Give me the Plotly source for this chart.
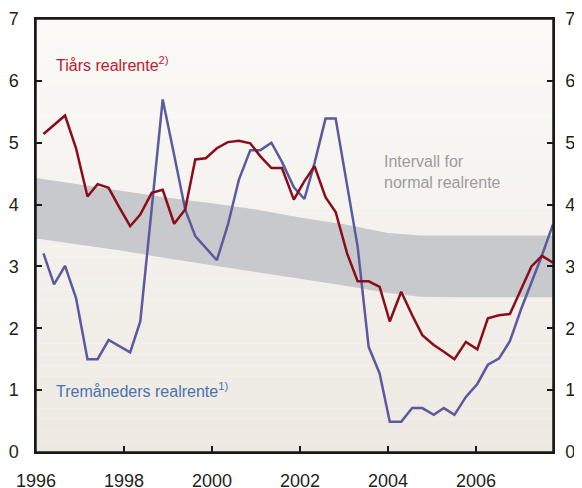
import plotly.graph_objects as go

dates = [1996.17, 1996.41, 1996.66, 1996.91, 1997.17, 1997.40, 1997.65, 1997.89,
         1998.14, 1998.37, 1998.63, 1998.88, 1999.14, 1999.39, 1999.62, 1999.86,
         2000.11, 2000.36, 2000.61, 2000.87, 2001.10, 2001.35, 2001.59, 2001.86,
         2002.10, 2002.33, 2002.58, 2002.81, 2003.07, 2003.31, 2003.56, 2003.81,
         2004.04, 2004.30, 2004.55, 2004.78, 2005.04, 2005.27, 2005.51, 2005.77,
         2006.03, 2006.27, 2006.52, 2006.77, 2007.02, 2007.26, 2007.50, 2007.75]

tiars = [5.14, 5.29, 5.44, 4.91, 4.13, 4.33, 4.27, 3.96,
         3.65, 3.84, 4.19, 4.24, 3.69, 3.92, 4.73, 4.75,
         4.91, 5.01, 5.03, 4.99, 4.78, 4.59, 4.59, 4.08,
         4.38, 4.62, 4.12, 3.88, 3.21, 2.76, 2.76, 2.67,
         2.11, 2.59, 2.21, 1.89, 1.73, 1.62, 1.50, 1.78,
         1.66, 2.16, 2.21, 2.23, 2.63, 3.00, 3.17, 3.06]

tremaneders = [3.21, 2.71, 3.01, 2.49, 1.50, 1.50, 1.81, 1.71,
               1.61, 2.11, 3.90, 5.70, 4.80, 3.92, 3.49, 3.29,
               3.10, 3.67, 4.40, 4.88, 4.88, 5.00, 4.69, 4.28,
               4.09, 4.67, 5.39, 5.39, 4.31, 3.32, 1.70, 1.27,
               0.49, 0.49, 0.71, 0.71, 0.60, 0.71, 0.60, 0.89,
               1.10, 1.41, 1.51, 1.79, 2.30, 2.73, 3.18, 3.68]

# Interval for normal real rate
band_x = [1996.0, 1997.0, 1998.0, 1999.0, 2000.0, 2001.0, 2002.0, 2003.0,
          2004.0, 2004.75, 2005.5, 2007.75]
band_hi = [4.43, 4.32, 4.21, 4.11, 4.02, 3.92, 3.79, 3.68, 3.54, 3.50, 3.50, 3.50]
band_lo = [3.45, 3.35, 3.25, 3.13, 3.02, 2.92, 2.80, 2.69, 2.57, 2.51, 2.50, 2.50]

FONT = "Liberation Sans, Arial, sans-serif"
RED = "#8a0d1b"
BLUE = "#5b5a9e"

fig = go.Figure()

fig.add_trace(go.Scatter(x=band_x, y=band_lo, mode="lines", line=dict(width=0),
                         showlegend=False, hoverinfo="skip"))
fig.add_trace(go.Scatter(x=band_x, y=band_hi, mode="lines", line=dict(width=0),
                         fill="tonexty", fillcolor="#c8c9cc",
                         showlegend=False, hoverinfo="skip"))
fig.add_trace(go.Scatter(x=dates, y=tremaneders, mode="lines",
                         line=dict(color=BLUE, width=2.5), showlegend=False))
fig.add_trace(go.Scatter(x=dates, y=tiars, mode="lines",
                         line=dict(color=RED, width=2.5), showlegend=False))
# carries the right-hand axis
fig.add_trace(go.Scatter(x=band_x, y=band_hi, yaxis="y2", mode="lines",
                         line=dict(width=0), showlegend=False, hoverinfo="skip"))

# soft vertical gradient behind the plot
n = 40
top = (251, 250, 248)
bot = (237, 233, 226)
shapes = []
for i in range(n):
    t = i / (n - 1)
    c = tuple(round(bot[k] + (top[k] - bot[k]) * t) for k in range(3))
    shapes.append(dict(type="rect", xref="x domain", yref="y domain",
                       x0=0, x1=1, y0=i / n, y1=(i + 1) / n,
                       fillcolor="rgb(%d,%d,%d)" % c, line=dict(width=0),
                       layer="below"))
# frame around the plot area
shapes.append(dict(type="rect", xref="x domain", yref="y domain",
                   x0=0, x1=1, y0=0, y1=1, fillcolor="rgba(0,0,0,0)",
                   line=dict(color="#1a1a1a", width=1.5), layer="above"))

axis_common = dict(showline=True, linecolor="#1a1a1a", linewidth=1.5,
                   ticks="inside", ticklen=6, tickwidth=1.5, tickcolor="#1a1a1a",
                   showgrid=False, zeroline=False, automargin=False,
                   tickfont=dict(family=FONT, size=18, color="#231f20"))

# the page body adds an 8px margin, so the plot area is shifted up/left by that much
fig.update_layout(
    width=582, height=488,
    margin=dict(l=28, r=37, t=11, b=44),
    paper_bgcolor="white", plot_bgcolor="rgba(0,0,0,0)",
    shapes=shapes,
    xaxis=dict(range=[1996, 2007.75], tickvals=[1996, 1998, 2000, 2002, 2004, 2006],
               mirror=True, ticklabelstandoff=12, **axis_common),
    yaxis=dict(range=[0, 7], dtick=1, ticklabelstandoff=12, **axis_common),
    yaxis2=dict(range=[0, 7], dtick=1, overlaying="y", side="right",
                ticklabelstandoff=7, **axis_common),
    annotations=[
        dict(x=1996.41, y=6.28, xref="x", yref="y", xanchor="left", yanchor="middle",
             text="Tiårs realrente<sup>2)</sup>", showarrow=False,
             font=dict(family=FONT, size=16, color="#c01a2c")),
        dict(x=1996.41, y=1.01, xref="x", yref="y", xanchor="left", yanchor="middle",
             text="Tremåneders realrente<sup>1)</sup>", showarrow=False,
             font=dict(family=FONT, size=16, color="#4a72ae")),
        dict(x=2003.86, y=4.52, xref="x", yref="y", xanchor="left", yanchor="middle",
             text="Intervall for<br>normal realrente", showarrow=False, align="left",
             font=dict(family=FONT, size=16, color="#9c9c9c")),
    ],
)

fig.write_html("out.html")
